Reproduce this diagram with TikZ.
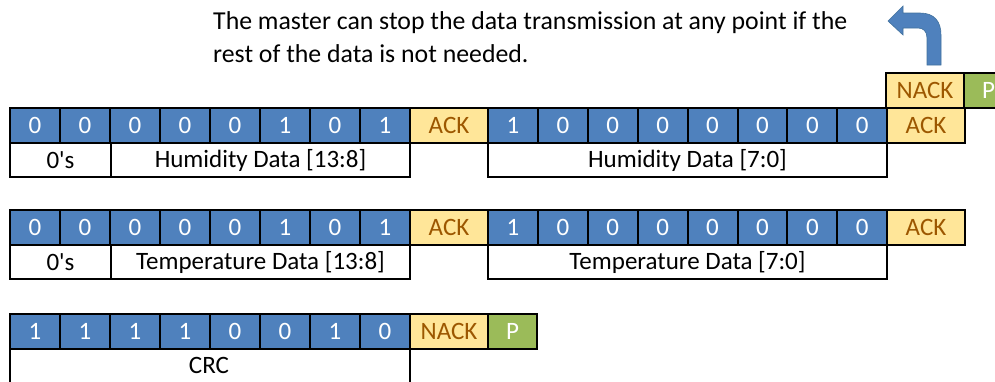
\documentclass[tikz,border=0pt]{standalone}
\usepackage{fontspec}
\setmainfont{Carlito}
\definecolor{bitblue}{HTML}{4F81BD}
\definecolor{ackfill}{HTML}{FFE699}
\definecolor{acktext}{HTML}{9C5700}
\definecolor{pgreen}{HTML}{9BBB59}
\definecolor{arrowedge}{HTML}{41719C}
\tikzset{
  cellbase/.style={draw=black, line width=2pt, inner sep=0pt, anchor=north west,
    minimum height=35pt, font=\fontsize{25}{29}\selectfont},
  bitcell/.style={cellbase, fill=bitblue, text=white, minimum width=50pt},
  ackcell/.style={cellbase, fill=ackfill, text=acktext, minimum width=77pt},
  pcell/.style={cellbase, fill=pgreen, text=white, minimum width=49pt},
  labelcell/.style={draw=black, line width=2pt, inner sep=0pt, anchor=north west,
    minimum height=34pt, fill=white, text=black, font=\fontsize{25}{29}\selectfont},
  note/.style={anchor=base west, inner sep=0pt, text=black, font=\fontsize{25.8}{30}\selectfont}
}
\begin{document}
\begin{tikzpicture}[x=1pt,y=-1pt]
\useasboundingbox (0,0) rectangle (995,381);
\clip (0,0) rectangle (995,381);
% note text
\node[note] (t1) at (213,29) {The master can stop the data transmission at any point if the};
\node[note] (t2) at (213,62) {rest of the data is not needed.};
% curved arrow
\filldraw[fill=bitblue, draw=arrowedge, line width=0.6pt]
  (927,65) -- (941,65) -- (941,35) .. controls (941,21) and (934,13) .. (920,13)
  -- (903,13) -- (903,6) -- (888,21) -- (903,35) -- (903,28) -- (918,28)
  .. controls (923,28) and (927,31) .. (927,38) -- cycle;
% row 1
\foreach \b [count=\i from 0] in {0,0,0,0,0,1,0,1}
  \node[bitcell] (r1a\i) at ({9+50*\i},107) {\b};
\node[ackcell, minimum width=78pt] (r1ack1) at (409,107) {ACK};
\foreach \b [count=\i from 0] in {1,0,0,0,0,0,0,0}
  \node[bitcell, minimum width=49.9pt] (r1b\i) at ({487+49.9*\i},107) {\b};
\node[ackcell, minimum width=78pt] (r1ack2) at (886,107) {ACK};
\node[ackcell, minimum width=78pt] (topnack) at (885,72) {NACK};
\node[pcell] (topp) at (963,72) {P};
\node[labelcell, minimum width=101pt] (r1l1) at (9,142) {0\textquotesingle s};
\node[labelcell, minimum width=299pt] (r1l2) at (110,142) {Humidity Data [13:8]};
\node[labelcell, minimum width=399pt] (r1l3) at (487,142) {Humidity Data [7:0]};
% row 2
\foreach \b [count=\i from 0] in {0,0,0,0,0,1,0,1}
  \node[bitcell] (r2a\i) at ({9+50*\i},209) {\b};
\node[ackcell, minimum width=78pt] (r2ack1) at (409,209) {ACK};
\foreach \b [count=\i from 0] in {1,0,0,0,0,0,0,0}
  \node[bitcell, minimum width=49.9pt] (r2b\i) at ({487+49.9*\i},209) {\b};
\node[ackcell, minimum width=78pt] (r2ack2) at (886,209) {ACK};
\node[labelcell, minimum width=101pt] (r2l1) at (9,244) {0\textquotesingle s};
\node[labelcell, minimum width=299pt] (r2l2) at (110,244) {Temperature Data [13:8]};
\node[labelcell, minimum width=399pt] (r2l3) at (487,244) {Temperature Data [7:0]};
% row 3
\foreach \b [count=\i from 0] in {1,1,1,1,0,0,1,0}
  \node[bitcell] (r3a\i) at ({9+50*\i},313) {\b};
\node[ackcell, minimum width=78pt] (r3nack) at (409,313) {NACK};
\node[pcell] (r3p) at (487,313) {P};
\node[labelcell, minimum width=400pt, minimum height=40pt] (r3l1) at (9,348) {};
\node[font=\fontsize{25}{29}\selectfont, inner sep=0pt] (crc) at (209,365) {CRC};
\end{tikzpicture}
\end{document}
